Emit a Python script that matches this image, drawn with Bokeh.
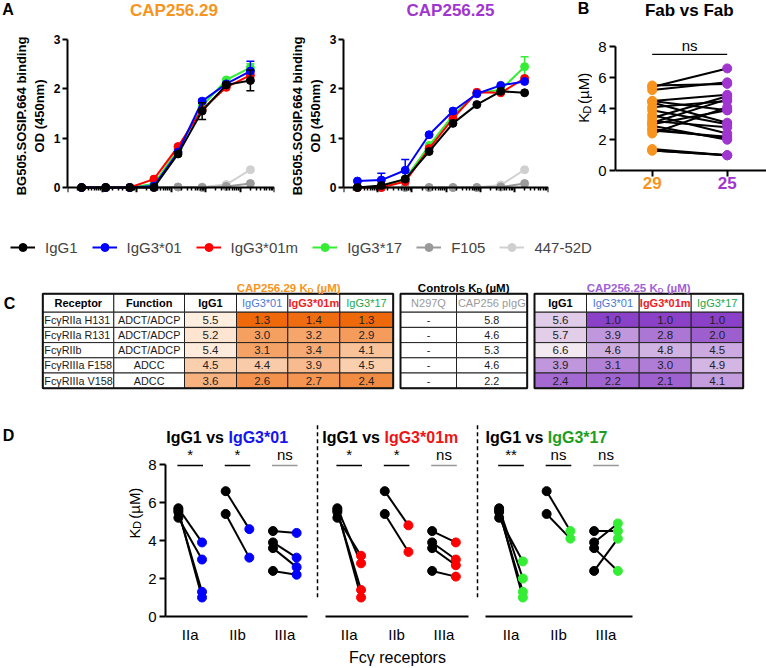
import math
import numpy as np
from bokeh.plotting import figure
from bokeh.models import (Range1d, FixedTicker, PrintfTickFormatter, Legend,
                          LegendItem, LinearColorMapper, ColumnDataSource)
from bokeh.layouts import row, column
from bokeh.transform import transform
from bokeh.core.properties import value
from bokeh.embed import file_html
from bokeh.resources import INLINE

FONT = "Liberation Sans"

# ======================= DATA =======================
# Panel A: ELISA binding (OD 450nm) vs concentration (ug/ml)
conc = [0.000256, 0.00128, 0.0064, 0.032, 0.16, 0.8, 4.0, 20.0]
antibodies = ["IgG1", "IgG3*01", "IgG3*01m", "IgG3*17", "F105", "447-52D"]

cap29_igg1 = [0.00, 0.00, 0.00, 0.00, 0.68, 1.55, 2.08, 2.17]
cap29_igg3_01 = [0.00, 0.00, 0.00, 0.03, 0.72, 1.75, 2.10, 2.36]
cap29_igg3_01m = [0.00, 0.00, 0.00, 0.17, 0.83, 1.58, 2.03, 2.28]
cap29_igg3_17 = [0.00, 0.00, 0.00, 0.07, 0.78, 1.65, 2.18, 2.43]
cap29_f105 = [0.00, 0.00, 0.00, 0.00, 0.01, 0.00, 0.02, 0.08]
cap29_447 = [0.00, 0.00, 0.00, 0.00, 0.01, 0.01, 0.06, 0.36]
cap29_igg1_sd = [0, 0, 0, 0, 0.03, 0.17, 0.03, 0.21]
cap29_igg3_01_sd = [0, 0, 0, 0, 0, 0.04, 0, 0.20]
cap29_igg3_01m_sd = [0, 0, 0, 0, 0, 0, 0, 0.05]
cap29_igg3_17_sd = [0, 0, 0, 0, 0, 0, 0, 0.08]
cap29_f105_sd = [0, 0, 0, 0, 0, 0, 0, 0]
cap29_447_sd = [0, 0, 0, 0, 0, 0, 0, 0]

cap25_igg1 = [0.00, 0.04, 0.17, 0.73, 1.30, 1.68, 1.95, 1.92]
cap25_igg3_01 = [0.13, 0.15, 0.35, 1.07, 1.55, 1.90, 2.07, 2.15]
cap25_igg3_01m = [0.00, 0.00, 0.12, 0.79, 1.40, 1.93, 1.92, 2.21]
cap25_igg3_17 = [0.00, 0.02, 0.17, 0.85, 1.46, 1.91, 1.98, 2.45]
cap25_f105 = [0.00, 0.00, 0.00, 0.00, 0.00, 0.00, 0.01, 0.08]
cap25_447 = [0.00, 0.00, 0.00, 0.00, 0.00, 0.00, 0.05, 0.36]
cap25_igg1_sd = [0, 0, 0, 0, 0, 0, 0, 0]
cap25_igg3_01_sd = [0, 0.14, 0.22, 0, 0, 0, 0, 0]
cap25_igg3_01m_sd = [0, 0, 0, 0, 0, 0, 0, 0]
cap25_igg3_17_sd = [0, 0, 0, 0, 0, 0, 0, 0.20]
cap25_f105_sd = [0, 0, 0, 0, 0, 0, 0, 0]
cap25_447_sd = [0, 0, 0, 0, 0, 0, 0, 0]

# Panel C: KD table (uM)
receptors = ["FcγRIIa H131", "FcγRIIa R131", "FcγRIIb", "FcγRIIIa F158", "FcγRIIIa V158"]
functions = ["ADCT/ADCP", "ADCT/ADCP", "ADCT/ADCP", "ADCC", "ADCC"]
isotypes = ["IgG1", "IgG3*01", "IgG3*01m", "IgG3*17"]
controls = ["N297Q", "CAP256 pIgG"]
kd29_igg1 = [5.5, 5.2, 5.4, 4.5, 3.6]
kd29_igg3_01 = [1.3, 3.0, 3.1, 4.4, 2.6]
kd29_igg3_01m = [1.4, 3.2, 3.4, 3.9, 2.7]
kd29_igg3_17 = [1.3, 2.9, 4.1, 4.5, 2.4]
kd25_igg1 = [5.6, 5.7, 6.6, 3.9, 2.4]
kd25_igg3_01 = [1.0, 3.9, 4.6, 3.1, 2.2]
kd25_igg3_01m = [1.0, 2.8, 4.8, 3.0, 2.1]
kd25_igg3_17 = [1.0, 2.0, 4.5, 4.9, 4.1]
ctrl_n297q = ["-", "-", "-", "-", "-"]
ctrl_pigg = [5.8, 4.6, 5.3, 4.6, 2.2]

# Panel B categories
fab_labels = ["29", "25"]
# Panel D groups and significance
fcr_groups = ["IIa", "IIb", "IIIa"]
receptor_group = [0, 0, 1, 2, 2]
sig_igg3_01 = ["*", "*", "ns"]
sig_igg3_01m = ["*", "*", "ns"]
sig_igg3_17 = ["**", "ns", "ns"]

# ======================= STYLE / LAYOUT =======================
def fs(v):
    return f"{v:.1f}px"

ORANGE = "#F7941D"
PURPLE = "#A035CF"
series_colors = ["#000000", "#0000FF", "#FF0000", "#33EE33", "#9A9A9A", "#D0D0D0"]
title_iso_colors = ["#000000", "#1515EE", "#EE1515", "#1E9E1E"]
table_iso_colors = ["#000000", "#4A78D2", "#EE1C24", "#21A64B"]
table_iso_styles = ["bold", "normal", "bold", "normal"]

REG = {' ': .278, '(': .333, ')': .333, '*': .389, '-': .333, '.': .278, '/': .278, 'µ': .556, 'γ': .5,
       'A': .667, 'B': .667, 'C': .722, 'D': .722, 'F': .611, 'G': .778, 'H': .722, 'I': .278, 'K': .667,
       'M': .833, 'N': .722, 'P': .667, 'Q': .778, 'R': .722, 'S': .667, 'V': .667, 'a': .556, 'b': .556,
       'c': .5, 'd': .556, 'e': .556, 'g': .556, 'i': .222, 'l': .222, 'm': .833, 'n': .556, 'o': .556,
       'p': .556, 'r': .333, 's': .5, 't': .278, 'v': .5, 'y': .5}
BOLD = {' ': .278, '(': .333, ')': .333, '*': .389, '.': .278, 'µ': .611, 'A': .722, 'B': .722, 'C': .722,
        'D': .722, 'F': .611, 'G': .778, 'I': .278, 'K': .722, 'M': .833, 'P': .667, 'S': .667, 'a': .556,
        'b': .611, 'c': .556, 'e': .556, 'g': .611, 'i': .278, 'l': .278, 'm': .889, 'n': .611, 'o': .611,
        'r': .389, 's': .556, 't': .333, 'v': .556}
def tw(s, size, bold=False):
    t = BOLD if bold else REG
    return sum(t.get(ch, 0.556) for ch in s) * size


def mkfig(x0, x1, y0, y1, fl, fr, ft, fb, **kw):
    p = figure(width=int(round(x1)) - int(round(x0)), height=int(round(y1)) - int(round(y0)),
               toolbar_location=None, output_backend="svg", **kw)
    p.min_border = 0
    p.min_border_left = int(round(fl)) - int(round(x0))
    p.min_border_right = int(round(x1)) - int(round(fr))
    p.min_border_top = int(round(ft)) - int(round(y0))
    p.min_border_bottom = int(round(y1)) - int(round(fb))
    p.outline_line_color = None
    p.grid.visible = False
    p.border_fill_color = "white"
    p.background_fill_color = "white"
    return p


def textfig(x0, x1, y0, y1):
    # free text area whose ranges are in reference pixels (y downwards)
    return mkfig(x0, x1, y0, y1, x0, x1, y0, y1, x_range=Range1d(x0, x1), y_range=Range1d(y1, y0),
                 x_axis_location=None, y_axis_location=None, title=None)


def put(p, x, y, s, size, color="black", style="normal", align="center", **kw):
    p.text([x], [y], text=[s], text_font=value(FONT), text_font_size=fs(size),
           text_font_style=style, text_align=align, text_baseline="middle", text_color=color, **kw)


def kd_vertical(p, x, yc):
    # (text, size, sideways shift, gap after)
    parts = [("K", 15, 0, 2.0), ("D", 11, 3, tw(" ", 15) + 1), ("(µM)", 15, 0, 0)]
    total = sum(tw(t, s) + g for t, s, _, g in parts)
    y = yc + total / 2.0
    for t, s, dx, g in parts:
        put(p, x + dx, y, t, s, align="left", angle=math.pi / 2)
        y -= tw(t, s) + g


def axis_common(ax):
    ax.axis_line_width = 2
    ax.axis_line_color = "black"
    ax.major_tick_line_width = 2
    ax.major_tick_line_color = "black"
    ax.major_tick_in = 0
    ax.minor_tick_in = 0
    ax.major_label_text_font = FONT
    ax.axis_label_text_font = FONT
    ax.axis_label_text_font_style = "normal"
    ax.major_label_text_color = "black"
    ax.axis_label_text_color = "black"

# ======================= HEADER STRIP (titles, letters) =======================
HDR_B = 28.0
hdr = textfig(0, 766, 0, HDR_B)
put(hdr, 7.5, 9, "A", 16, style="bold")
put(hdr, 173.5, 10, "CAP256.29", 17, ORANGE, "bold")
put(hdr, 450, 10, "CAP256.25", 17, PURPLE, "bold")
put(hdr, 583, 8, "B", 16, style="bold")
put(hdr, 688.8, 10, "Fab vs Fab", 17, "black", "bold")

# ======================= PANEL A =======================
A_TOP, A_Y0, A_BOT = 39.0, 187.0, 192.0
A_PPU = (A_Y0 - A_TOP) / 3.0
A_YMIN = -(A_BOT - A_Y0) / A_PPU
A_DECADES = [10.0 ** k for k in range(-4, 3)]
A_MINORS = [m * 10.0 ** k for k in range(-4, 2) for m in range(2, 10)]


def panel_a(x0, x1, fl, fr, series):
    p = mkfig(x0, x1, HDR_B, 232, fl, fr, A_TOP, A_BOT, x_axis_type="log",
              x_range=Range1d(1e-4, 100), y_range=Range1d(A_YMIN, 3), title=None)
    xa, ya = p.xaxis[0], p.yaxis[0]
    axis_common(xa)
    axis_common(ya)
    xa.ticker = FixedTicker(ticks=A_DECADES, minor_ticks=A_MINORS)
    xa.formatter = PrintfTickFormatter(format="%g")
    xa.fixed_location = 0
    xa.bounds = (1e-4, 100)
    xa.major_tick_out = 5
    xa.minor_tick_out = 3
    xa.minor_tick_line_width = 1.5
    xa.minor_tick_line_color = "black"
    xa.major_label_text_font_size = fs(10.5)
    xa.major_label_text_font_style = "bold"
    xa.major_label_standoff = 2
    xa.axis_label = "Concentration (µg/ml)"
    xa.axis_label_text_font_size = fs(12)
    xa.axis_label_text_font_style = "bold"
    xa.axis_label_standoff = 4
    ya.ticker = FixedTicker(ticks=[0, 1, 2, 3])
    ya.bounds = (0, 3)
    ya.major_tick_out = 5
    ya.major_label_text_font_size = fs(12)
    ya.major_label_text_font_style = "bold"
    ya.major_label_standoff = 2
    ya.axis_label = "BG505.SOSIP.664 binding\nOD (450nm)"
    ya.axis_label_text_font_size = fs(13)
    ya.axis_label_text_font_style = "bold"
    ya.axis_label_standoff = 4
    for (ys, sds), col in reversed(list(zip(series, series_colors))):
        p.line(conc, ys, line_color=col, line_width=2)
        p.scatter(conc, ys, size=8, fill_color=col, line_color=col)
        idx = [i for i, s in enumerate(sds) if s > 0]
        if idx:
            xs = [conc[i] for i in idx]
            lo = [ys[i] - sds[i] for i in idx]
            hi = [ys[i] + sds[i] for i in idx]
            p.segment(xs, lo, xs, hi, line_color=col, line_width=1.5)
            p.scatter(xs + xs, lo + hi, marker="dash", size=8, line_color=col, line_width=1.5)
    return p


apad = textfig(0, 10, HDR_B, 232)
a1 = panel_a(10, 286, 62.5, 273.7,
             [(cap29_igg1, cap29_igg1_sd), (cap29_igg3_01, cap29_igg3_01_sd),
              (cap29_igg3_01m, cap29_igg3_01m_sd), (cap29_igg3_17, cap29_igg3_17_sd),
              (cap29_f105, cap29_f105_sd), (cap29_447, cap29_447_sd)])
a2 = panel_a(286, 560, 337.5, 548.5,
             [(cap25_igg1, cap25_igg1_sd), (cap25_igg3_01, cap25_igg3_01_sd),
              (cap25_igg3_01m, cap25_igg3_01m_sd), (cap25_igg3_17, cap25_igg3_17_sd),
              (cap25_f105, cap25_f105_sd), (cap25_447, cap25_447_sd)])

# ======================= PANEL B =======================
B_TOP, B_Y8, B_Y0, B_BOT = 30.0, 38.7, 188.7, 215.0
B_PPU = (B_Y0 - B_Y8) / 8.0
B_X0, B_X1, B_FL, B_FR = 651.7, 726.7, 615.0, 766.0
bxr = (-(B_X0 - B_FL) / (B_X1 - B_X0), 1 + (B_FR - B_X1) / (B_X1 - B_X0))
byr = (-(B_BOT - B_Y0) / B_PPU, 8 + (B_Y8 - B_TOP) / B_PPU)
btxt = textfig(560, 592, HDR_B, 232)
kd_vertical(btxt, 583, 111)
pb = mkfig(592, 766, HDR_B, 232, B_FL, B_FR, B_TOP, B_BOT,
           x_range=Range1d(*bxr), y_range=Range1d(*byr), title=None)
bx, by = pb.xaxis[0], pb.yaxis[0]
axis_common(bx)
axis_common(by)
bx.fixed_location = 0
bx.bounds = bxr
bx.ticker = FixedTicker(ticks=[0, 1])
bx.major_label_overrides = {0: "", 1: ""}
bx.major_tick_out = 6
by.ticker = FixedTicker(ticks=[0, 2, 4, 6, 8])
by.bounds = (0, 8)
by.major_tick_out = 6
by.major_label_text_font_size = fs(15)
by.major_label_standoff = 3

kd29_cols = [kd29_igg1, kd29_igg3_01, kd29_igg3_01m, kd29_igg3_17]
kd25_cols = [kd25_igg1, kd25_igg3_01, kd25_igg3_01m, kd25_igg3_17]
b29 = [v for col in kd29_cols for v in col]
b25 = [v for col in kd25_cols for v in col]
n = len(b29)
pb.segment([0] * n, b29, [1] * n, b25, line_color="black", line_width=2)
pb.scatter([0] * n, b29, size=9, fill_color=ORANGE, line_color=ORANGE)
pb.scatter([1] * n, b25, size=9, fill_color=PURPLE, line_color=PURPLE)
pb.segment([0], [8 - (48 - B_Y8) / B_PPU], [1], [8 - (48 - B_Y8) / B_PPU],
           line_color="black", line_width=1.3)
pb.text([0.5], [8 - (47 - B_Y8) / B_PPU], text=["ns"], text_font=value(FONT),
        text_font_size=fs(15), text_align="center", text_baseline="bottom", text_color="black")
pb.text([0, 1], [-(203 - B_Y0) / B_PPU] * 2, text=fab_labels, text_font=value(FONT),
        text_font_size=fs(17), text_font_style="bold", text_align="center",
        text_baseline="middle", text_color=[ORANGE, PURPLE])

# ======================= LEGEND =======================
leg = mkfig(0, 766, 232, 262, 0, 766, 232, 262, x_range=Range1d(0, 1), y_range=Range1d(0, 1),
            x_axis_location=None, y_axis_location=None, title=None)
items = []
for name, col in zip(antibodies, series_colors):
    r1 = leg.line([np.nan], [np.nan], line_color=col, line_width=2)
    r2 = leg.scatter([np.nan], [np.nan], size=8, fill_color=col, line_color=col)
    items.append(LegendItem(label=name, renderers=[r1, r2]))
lg = Legend(items=items, orientation="horizontal", location=(10, 5),
            glyph_width=25, glyph_height=20, label_height=20,
            label_standoff=10, spacing=14, padding=0, margin=0,
            border_line_color=None, background_fill_alpha=0,
            label_text_font=FONT, label_text_font_size=fs(15))
leg.add_layout(lg)

# ======================= PANEL C (table) =======================
T = textfig(0, 766, 262, 400)
HDR_TOP, HDR_H, ROW_H = 293.3, 18.4, 15.2
b1_edges = list(np.cumsum([42.3, 71, 70.7, 52, 51.3, 52, 53.4]))
b2_edges = list(np.cumsum([400, 56, 70.7]))
b3_edges = list(np.cumsum([534, 52, 52.7, 52, 52]))
row_tops = [HDR_TOP + HDR_H + i * ROW_H for i in range(len(receptors))]
tbl_bottom = row_tops[-1] + ROW_H

white = dict(l=[], r=[], t=[], b=[])
texts = dict(x=[], y=[], text=[], color=[], style=[], align=[])
htexts = dict(x=[], y=[], text=[], color=[], style=[])

def add_white(l, r, t, b):
    white["l"].append(l); white["r"].append(r); white["t"].append(t); white["b"].append(b)

def add_text(x, y, s, color="#1a1a1a", style="normal", align="center"):
    texts["x"].append(x); texts["y"].append(y); texts["text"].append(s)
    texts["color"].append(color); texts["style"].append(style); texts["align"].append(align)

def add_htext(x, y, s, color, style):
    htexts["x"].append(x); htexts["y"].append(y); htexts["text"].append(s)
    htexts["color"].append(color); htexts["style"].append(style)

def value_cells(edges, cols, first_col):
    d = dict(l=[], r=[], t=[], b=[], val=[], x=[], y=[], lab=[])
    for ci, col in enumerate(cols):
        l, r = edges[first_col + ci], edges[first_col + ci + 1]
        for ri, v in enumerate(col):
            t = row_tops[ri]
            d["l"].append(l); d["r"].append(r); d["t"].append(t); d["b"].append(t + ROW_H)
            d["val"].append(v); d["x"].append((l + r) / 2); d["y"].append(t + ROW_H / 2)
            d["lab"].append(f"{v:.1f}")
    return d

for ci, (h, c, st) in enumerate(zip(["Receptor", "Function"] + isotypes,
                                    ["#000000", "#000000"] + table_iso_colors,
                                    ["bold", "bold"] + table_iso_styles)):
    add_white(b1_edges[ci], b1_edges[ci + 1], HDR_TOP, HDR_TOP + HDR_H)
    add_htext((b1_edges[ci] + b1_edges[ci + 1]) / 2, HDR_TOP + HDR_H / 2, h, c, st)
for ri, (rc, fn) in enumerate(zip(receptors, functions)):
    t = row_tops[ri]
    add_white(b1_edges[0], b1_edges[1], t, t + ROW_H)
    add_white(b1_edges[1], b1_edges[2], t, t + ROW_H)
    add_text(b1_edges[0] + 1.5, t + ROW_H / 2, rc, align="left")
    add_text((b1_edges[1] + b1_edges[2]) / 2, t + ROW_H / 2, fn)
for ci, h in enumerate(controls):
    add_white(b2_edges[ci], b2_edges[ci + 1], HDR_TOP, HDR_TOP + HDR_H)
    add_htext((b2_edges[ci] + b2_edges[ci + 1]) / 2, HDR_TOP + HDR_H / 2, h, "#9a9a9a", "normal")
for ri, (a, b) in enumerate(zip(ctrl_n297q, ctrl_pigg)):
    t = row_tops[ri]
    add_white(b2_edges[0], b2_edges[1], t, t + ROW_H)
    add_white(b2_edges[1], b2_edges[2], t, t + ROW_H)
    add_text((b2_edges[0] + b2_edges[1]) / 2, t + ROW_H / 2, a)
    add_text((b2_edges[1] + b2_edges[2]) / 2, t + ROW_H / 2, f"{b:.1f}")
for ci, (h, c, st) in enumerate(zip(isotypes, table_iso_colors, table_iso_styles)):
    add_white(b3_edges[ci], b3_edges[ci + 1], HDR_TOP, HDR_TOP + HDR_H)
    add_htext((b3_edges[ci] + b3_edges[ci + 1]) / 2, HDR_TOP + HDR_H / 2, h, c, st)

T.quad(left="l", right="r", top="t", bottom="b", source=ColumnDataSource(white),
       fill_color="white", line_color="#222222", line_width=1)


def ramp(c_dark, c_light, n=256):
    a = np.array([int(c_dark[i:i + 2], 16) for i in (1, 3, 5)], float)
    b = np.array([int(c_light[i:i + 2], 16) for i in (1, 3, 5)], float)
    return ["#%02x%02x%02x" % tuple(int(round(v)) for v in a + (b - a) * k / (n - 1)) for k in range(n)]

all29 = [v for col in kd29_cols for v in col]
all25 = [v for col in kd25_cols for v in col]
map29 = LinearColorMapper(palette=ramp("#EF690B", "#FEEEE0"), low=min(all29), high=max(all29))
map25 = LinearColorMapper(palette=ramp("#8A40C7", "#F3E9F0"), low=min(all25), high=max(all25))
for cells, mp in ((value_cells(b1_edges, kd29_cols, 2), map29), (value_cells(b3_edges, kd25_cols, 0), map25)):
    src = ColumnDataSource(cells)
    T.quad(left="l", right="r", top="t", bottom="b", source=src,
           fill_color=transform("val", mp), line_color="#222222", line_width=1)
    T.text(x="x", y="y", text="lab", source=src, text_font=value(FONT), text_font_size=fs(11.5),
           text_align="center", text_baseline="middle", text_color="#222222")

T.text(x="x", y="y", text="text", source=ColumnDataSource(texts), text_font=value(FONT),
       text_font_size=fs(10.8), text_font_style="style", text_align="align",
       text_baseline="middle", text_color="color")
T.text(x="x", y="y", text="text", source=ColumnDataSource(htexts), text_font=value(FONT),
       text_font_size=fs(11), text_font_style="style", text_align="center",
       text_baseline="middle", text_color="color")
for edges in (b1_edges, b2_edges, b3_edges):
    T.quad(left=[edges[0]], right=[edges[-1]], top=[HDR_TOP], bottom=[tbl_bottom],
           fill_alpha=0, line_color="#111111", line_width=2)


def rich_header(prefix, color, cx, cy=287.0):
    # (text, size, baseline shift, gap after)
    parts = [(prefix + " K", 11.5, 0, 0), ("D", 8, 2.5, tw(" ", 11.5, True)), ("(µM)", 11.5, 0, 0)]
    total = sum(tw(t, s, True) + g for t, s, _, g in parts)
    x = cx - total / 2
    for t, s, dy, g in parts:
        put(T, x, cy + dy, t, s, color, "bold", align="left")
        x += tw(t, s, True) + g

rich_header("CAP256.29", ORANGE, (b1_edges[2] + b1_edges[-1]) / 2)
rich_header("Controls", "#000000", (b2_edges[0] + b2_edges[-1]) / 2)
rich_header("CAP256.25", "#A061D6", (b3_edges[0] + b3_edges[-1]) / 2)
put(T, 9, 303, "C", 16, style="bold")

# ======================= PANEL D =======================
D_TOP, D_Y8, D_Y0 = 405.0, 465.0, 619.3
D_PPU = (D_Y0 - D_Y8) / 8.0
D_YMAX = 8 + (D_Y8 - D_TOP) / D_PPU


def panel_d(x0, x1, fl, fr, c1, sp, al, ar, tl, iso_idx, sig, first, xlabel):
    xr = (1 + (fl - c1) / sp, 1 + (fr - c1) / sp)
    kw = {} if first else {"y_axis_location": None}
    p = mkfig(x0, x1, 400, 668, fl, fr, D_TOP, D_Y0, x_range=Range1d(*xr),
              y_range=Range1d(0, D_YMAX), title=None, **kw)
    xa = p.xaxis[0]
    axis_common(xa)
    xa.bounds = (1 + (al - c1) / sp, 1 + (ar - c1) / sp)
    xa.ticker = FixedTicker(ticks=[1, 2, 3])
    xa.major_label_overrides = {i + 1: g for i, g in enumerate(fcr_groups)}
    xa.major_tick_out = 0
    xa.major_label_text_font_size = fs(15)
    xa.major_label_standoff = 9
    if xlabel:
        xa.axis_label = xlabel
        xa.axis_label_text_font_size = fs(16)
        xa.axis_label_standoff = 3
    if first:
        ya = p.yaxis[0]
        axis_common(ya)
        ya.ticker = FixedTicker(ticks=[0, 2, 4, 6, 8])
        ya.bounds = (0, 8)
        ya.major_tick_out = 6
        ya.major_label_text_font_size = fs(15)
        ya.major_label_standoff = 3
    iso29, iso25 = kd29_cols[iso_idx], kd25_cols[iso_idx]
    bxs, bys, cxs, cys = [], [], [], []
    for r, g in enumerate(receptor_group):
        for v1, v2 in ((kd29_igg1[r], iso29[r]), (kd25_igg1[r], iso25[r])):
            bxs.append(g + 1 - 0.25); bys.append(v1)
            cxs.append(g + 1 + 0.25); cys.append(v2)
    p.segment(bxs, bys, cxs, cys, line_color="black", line_width=2)
    p.scatter(bxs, bys, size=9, fill_color="black", line_color="black")
    col = series_colors[iso_idx]
    p.scatter(cxs, cys, size=9, fill_color=col, line_color=col)
    ybar = 8 - (466 - D_Y8) / D_PPU
    centers = [i + 1 for i in range(len(fcr_groups))]
    bar_cols = ["#999999" if s == "ns" and i == 2 else "black" for i, s in enumerate(sig)]
    p.segment([c - 0.27 for c in centers], [ybar] * 3, [c + 0.27 for c in centers], [ybar] * 3,
              line_color=bar_cols, line_width=1.5)
    p.text(centers, [8 - (463 - D_Y8) / D_PPU] * 3, text=sig, text_font=value(FONT),
           text_font_size=fs(15), text_align="center", text_baseline="bottom", text_color="black")
    tx = 1 + (tl - c1) / sp
    ty = 8 + (D_Y8 - 438) / D_PPU
    p.text([tx], [ty], text=["IgG1 vs "], text_font=value(FONT), text_font_size=fs(16),
           text_font_style="bold", text_align="left", text_baseline="middle", text_color="black")
    p.text([tx], [ty], text=[isotypes[iso_idx]], text_font=value(FONT), text_font_size=fs(16),
           text_font_style="bold", text_align="left", text_baseline="middle",
           text_color=title_iso_colors[iso_idx], x_offset=tw("IgG1 vs ", 16, True))
    return p


def sep_fig(x0, x1):
    p = textfig(x0, x1, 400, 668)
    p.segment([(x0 + x1) / 2], [425], [(x0 + x1) / 2], [645], line_color="black",
              line_width=1.5, line_dash="4 3")
    return p


dtxt = textfig(0, 145, 400, 668)
put(dtxt, 8, 438, "D", 16, style="bold")
kd_vertical(dtxt, 133.5, 541)
d1 = panel_d(145, 315, 165, 315, 189.7, 47.3, 165, 307, 165.7, 1, sig_igg3_01, True, None)
s1 = sep_fig(315, 319)
d2 = panel_d(319, 475, 319, 475, 348.7, 47.4, 325, 468, 321.7, 2, sig_igg3_01m, False, "Fcγ receptors")
s2 = sep_fig(475, 479)
d3 = panel_d(479, 766, 479, 640, 510.5, 47.5, 485, 632, 485.0, 3, sig_igg3_17, False, None)

layout = column(hdr, row(apad, a1, a2, btxt, pb), leg, T, row(dtxt, d1, s1, d2, s2, d3))
open("out.html", "w").write(file_html(layout, INLINE))
